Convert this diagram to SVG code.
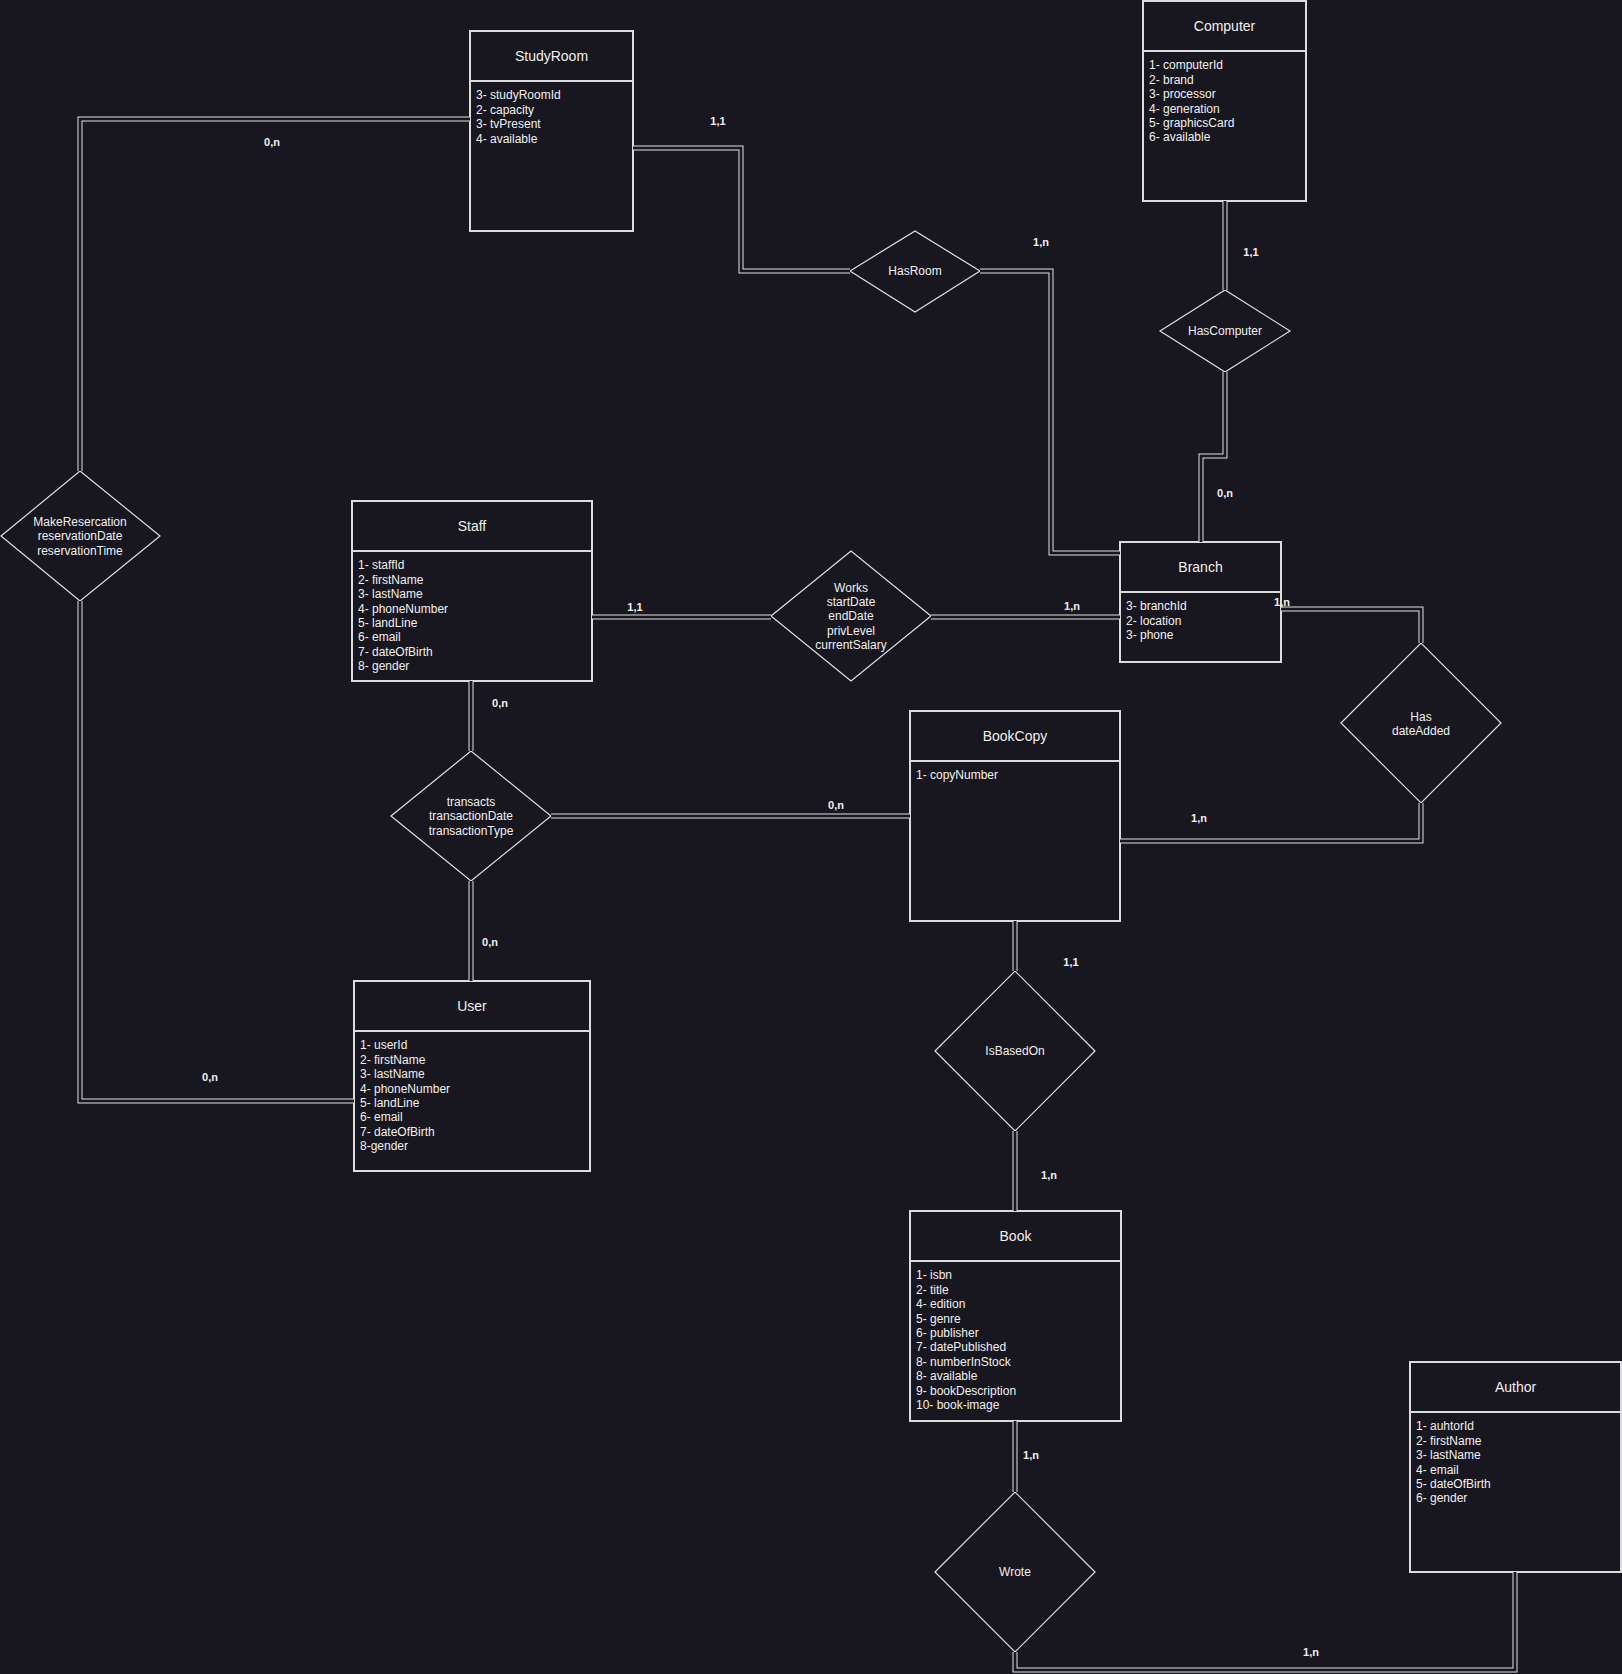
<svg xmlns="http://www.w3.org/2000/svg" xmlns:xlink="http://www.w3.org/1999/xlink" width="1622" height="1674" viewBox="0 0 1622 1674">
<style>
.bg{fill:#18161e}
.box{fill:#18161e;stroke:#dcdcdc;stroke-width:2}
.div{stroke:#dcdcdc;stroke-width:2}
.dia{fill:#18161e;stroke:#e0e0e0;stroke-width:1.2}
.title{font-family:"Liberation Sans",Arial,sans-serif;font-size:14px;fill:#f0f0f0;text-anchor:middle}
.attr{font-family:"Liberation Sans",Arial,sans-serif;font-size:12px;fill:#f0f0f0}
.dtxt{font-family:"Liberation Sans",Arial,sans-serif;font-size:12px;fill:#f0f0f0;text-anchor:middle}
.card{font-family:"Liberation Sans",Arial,sans-serif;font-size:11px;font-weight:bold;fill:#f0f0f0;text-anchor:middle}
.outer{fill:none;stroke:#e0e0e0;stroke-width:5}
.inner{fill:none;stroke:#18161e;stroke-width:3}
</style>
<defs>
<path id="p1" d="M633,148 H741 V271 H850"/>
<path id="p2" d="M980,271 H1051 V553 H1120"/>
<path id="p3" d="M1225,201 V290"/>
<path id="p4" d="M1225,372 V456 H1201 V542"/>
<path id="p5" d="M470,119 H80 V471"/>
<path id="p6" d="M80,601 V1101 H354"/>
<path id="p7" d="M592,617 H771"/>
<path id="p8" d="M931,617 H1120"/>
<path id="p9" d="M1281,609 H1421 V643"/>
<path id="p10" d="M1421,803 V841 H1120"/>
<path id="p11" d="M551,816 H910"/>
<path id="p12" d="M471,681 V751"/>
<path id="p13" d="M471,881 V981"/>
<path id="p14" d="M1015,921 V971"/>
<path id="p15" d="M1015,1131 V1211"/>
<path id="p16" d="M1015,1421 V1492"/>
<path id="p17" d="M1015,1652 V1670 H1515 V1572"/>
</defs>
<rect class="bg" x="0" y="0" width="1622" height="1674"/>

<g id="StudyRoom">
<rect class="box" x="470" y="31" width="163" height="200"/>
<line class="div" x1="470" y1="81" x2="633" y2="81"/>
<text class="title" x="551.5" y="61">StudyRoom</text>
<text class="attr" x="476" y="99.3">3- studyRoomId</text>
<text class="attr" x="476" y="113.7">2- capacity</text>
<text class="attr" x="476" y="128.1">3- tvPresent</text>
<text class="attr" x="476" y="142.5">4- available</text>
</g>

<g id="Computer">
<rect class="box" x="1143" y="1" width="163" height="200"/>
<line class="div" x1="1143" y1="51" x2="1306" y2="51"/>
<text class="title" x="1224.5" y="31">Computer</text>
<text class="attr" x="1149" y="69.3">1- computerId</text>
<text class="attr" x="1149" y="83.7">2- brand</text>
<text class="attr" x="1149" y="98.1">3- processor</text>
<text class="attr" x="1149" y="112.5">4- generation</text>
<text class="attr" x="1149" y="126.9">5- graphicsCard</text>
<text class="attr" x="1149" y="141.3">6- available</text>
</g>

<g id="Staff">
<rect class="box" x="352" y="501" width="240" height="180"/>
<line class="div" x1="352" y1="551" x2="592" y2="551"/>
<text class="title" x="472" y="531">Staff</text>
<text class="attr" x="358" y="569.3">1- staffId</text>
<text class="attr" x="358" y="583.7">2- firstName</text>
<text class="attr" x="358" y="598.1">3- lastName</text>
<text class="attr" x="358" y="612.5">4- phoneNumber</text>
<text class="attr" x="358" y="626.9">5- landLine</text>
<text class="attr" x="358" y="641.3">6- email</text>
<text class="attr" x="358" y="655.7">7- dateOfBirth</text>
<text class="attr" x="358" y="670.1">8- gender</text>
</g>

<g id="User">
<rect class="box" x="354" y="981" width="236" height="190"/>
<line class="div" x1="354" y1="1031" x2="590" y2="1031"/>
<text class="title" x="472" y="1011">User</text>
<text class="attr" x="360" y="1049.3">1- userId</text>
<text class="attr" x="360" y="1063.7">2- firstName</text>
<text class="attr" x="360" y="1078.1">3- lastName</text>
<text class="attr" x="360" y="1092.5">4- phoneNumber</text>
<text class="attr" x="360" y="1106.9">5- landLine</text>
<text class="attr" x="360" y="1121.3">6- email</text>
<text class="attr" x="360" y="1135.7">7- dateOfBirth</text>
<text class="attr" x="360" y="1150.1">8-gender</text>
</g>

<g id="Branch">
<rect class="box" x="1120" y="542" width="161" height="120"/>
<line class="div" x1="1120" y1="592" x2="1281" y2="592"/>
<text class="title" x="1200.5" y="572">Branch</text>
<text class="attr" x="1126" y="610.3">3- branchId</text>
<text class="attr" x="1126" y="624.7">2- location</text>
<text class="attr" x="1126" y="639.1">3- phone</text>
</g>

<g id="BookCopy">
<rect class="box" x="910" y="711" width="210" height="210"/>
<line class="div" x1="910" y1="761" x2="1120" y2="761"/>
<text class="title" x="1015" y="741">BookCopy</text>
<text class="attr" x="916" y="779.3">1- copyNumber</text>
</g>

<g id="Book">
<rect class="box" x="910" y="1211" width="211" height="210"/>
<line class="div" x1="910" y1="1261" x2="1121" y2="1261"/>
<text class="title" x="1015.5" y="1241">Book</text>
<text class="attr" x="916" y="1279.3">1- isbn</text>
<text class="attr" x="916" y="1293.7">2- title</text>
<text class="attr" x="916" y="1308.1">4- edition</text>
<text class="attr" x="916" y="1322.5">5- genre</text>
<text class="attr" x="916" y="1336.9">6- publisher</text>
<text class="attr" x="916" y="1351.3">7- datePublished</text>
<text class="attr" x="916" y="1365.7">8- numberInStock</text>
<text class="attr" x="916" y="1380.1">8- available</text>
<text class="attr" x="916" y="1394.5">9- bookDescription</text>
<text class="attr" x="916" y="1408.9">10- book-image</text>
</g>

<g id="Author">
<rect class="box" x="1410" y="1362" width="211" height="210"/>
<line class="div" x1="1410" y1="1412" x2="1621" y2="1412"/>
<text class="title" x="1515.5" y="1392">Author</text>
<text class="attr" x="1416" y="1430.3">1- auhtorId</text>
<text class="attr" x="1416" y="1444.7">2- firstName</text>
<text class="attr" x="1416" y="1459.1">3- lastName</text>
<text class="attr" x="1416" y="1473.5">4- email</text>
<text class="attr" x="1416" y="1487.9">5- dateOfBirth</text>
<text class="attr" x="1416" y="1502.3">6- gender</text>
</g>

<g id="HasRoom">
<polygon class="dia" points="850,271 915,231 980,271 915,312"/>
<text class="dtxt" x="915" y="275.3">HasRoom</text>
</g>

<g id="HasComputer">
<polygon class="dia" points="1160,331 1225,290 1290,331 1225,372"/>
<text class="dtxt" x="1225" y="335.3">HasComputer</text>
</g>

<g id="MakeResercation">
<polygon class="dia" points="1,536 80,471 160,536 80,601"/>
<text class="dtxt" x="80" y="525.8">MakeResercation</text>
<text class="dtxt" x="80" y="540.3">reservationDate</text>
<text class="dtxt" x="80" y="554.8">reservationTime</text>
</g>

<g id="Works">
<polygon class="dia" points="771,616 851,551 931,616 851,681"/>
<text class="dtxt" x="851" y="591.5">Works</text>
<text class="dtxt" x="851" y="605.9">startDate</text>
<text class="dtxt" x="851" y="620.3">endDate</text>
<text class="dtxt" x="851" y="634.7">privLevel</text>
<text class="dtxt" x="851" y="649.1">currentSalary</text>
</g>

<g id="Has">
<polygon class="dia" points="1341,723 1421,643 1501,723 1421,803"/>
<text class="dtxt" x="1421" y="720.6">Has</text>
<text class="dtxt" x="1421" y="735">dateAdded</text>
</g>

<g id="transacts">
<polygon class="dia" points="391,816 471,751 551,816 471,881"/>
<text class="dtxt" x="471" y="805.9">transacts</text>
<text class="dtxt" x="471" y="820.3">transactionDate</text>
<text class="dtxt" x="471" y="834.7">transactionType</text>
</g>

<g id="IsBasedOn">
<polygon class="dia" points="935,1051 1015,971 1095,1051 1015,1131"/>
<text class="dtxt" x="1015" y="1055.3">IsBasedOn</text>
</g>

<g id="Wrote">
<polygon class="dia" points="935,1572 1015,1492 1095,1572 1015,1652"/>
<text class="dtxt" x="1015" y="1576.3">Wrote</text>
</g>

<g id="connectors">
<use class="outer" xlink:href="#p1"/><use class="inner" xlink:href="#p1"/>
<use class="outer" xlink:href="#p2"/><use class="inner" xlink:href="#p2"/>
<use class="outer" xlink:href="#p3"/><use class="inner" xlink:href="#p3"/>
<use class="outer" xlink:href="#p4"/><use class="inner" xlink:href="#p4"/>
<use class="outer" xlink:href="#p5"/><use class="inner" xlink:href="#p5"/>
<use class="outer" xlink:href="#p6"/><use class="inner" xlink:href="#p6"/>
<use class="outer" xlink:href="#p7"/><use class="inner" xlink:href="#p7"/>
<use class="outer" xlink:href="#p8"/><use class="inner" xlink:href="#p8"/>
<use class="outer" xlink:href="#p9"/><use class="inner" xlink:href="#p9"/>
<use class="outer" xlink:href="#p10"/><use class="inner" xlink:href="#p10"/>
<use class="outer" xlink:href="#p11"/><use class="inner" xlink:href="#p11"/>
<use class="outer" xlink:href="#p12"/><use class="inner" xlink:href="#p12"/>
<use class="outer" xlink:href="#p13"/><use class="inner" xlink:href="#p13"/>
<use class="outer" xlink:href="#p14"/><use class="inner" xlink:href="#p14"/>
<use class="outer" xlink:href="#p15"/><use class="inner" xlink:href="#p15"/>
<use class="outer" xlink:href="#p16"/><use class="inner" xlink:href="#p16"/>
<use class="outer" xlink:href="#p17"/><use class="inner" xlink:href="#p17"/>
<text class="card" x="718" y="125">1,1</text>
<text class="card" x="1041" y="246">1,n</text>
<text class="card" x="1251" y="256">1,1</text>
<text class="card" x="1225" y="497">0,n</text>
<text class="card" x="272" y="146">0,n</text>
<text class="card" x="210" y="1081">0,n</text>
<text class="card" x="635" y="611">1,1</text>
<text class="card" x="1072" y="610">1,n</text>
<text class="card" x="1282" y="606">1,n</text>
<text class="card" x="1199" y="822">1,n</text>
<text class="card" x="836" y="809">0,n</text>
<text class="card" x="500" y="707">0,n</text>
<text class="card" x="490" y="946">0,n</text>
<text class="card" x="1071" y="966">1,1</text>
<text class="card" x="1049" y="1179">1,n</text>
<text class="card" x="1031" y="1459">1,n</text>
<text class="card" x="1311" y="1656">1,n</text>
</g>
</svg>
